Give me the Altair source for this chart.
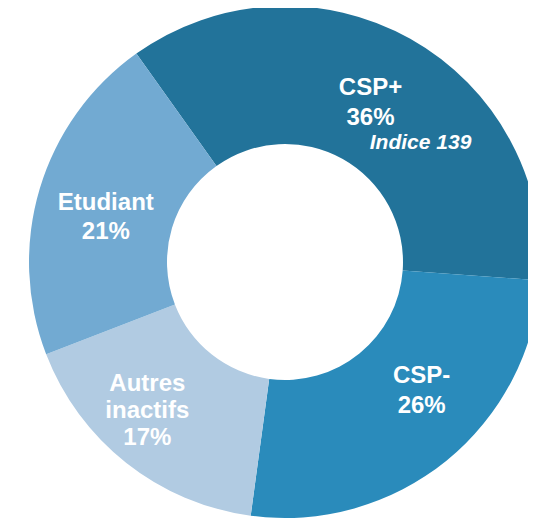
import math
import altair as alt
import pandas as pd

# ---- data ----
categories = ["CSP+", "CSP-", "Autres inactifs", "Etudiant"]
shares = [36, 26, 17, 21]
label_names = ["CSP+", "CSP-", "Autres\ninactifs", "Etudiant"]
notes = ["Indice 139", "", "", ""]
colors = ["#22739A", "#2A8BBB", "#B1CBE2", "#72AAD2"]

df = pd.DataFrame({
    "category": categories,
    "share": shares,
    "name": label_names,
    "note": notes,
    "order": list(range(len(categories))),
})
df["label"] = df["name"] + "\n" + df["share"].astype(str) + "%"

# ---- layout / style ----
W, H = 520, 513
CX, CY = 277, 254
R_OUT, R_IN = 256, 118
R_LABEL = 185
start = math.radians(-35.5)
theta_scale = alt.Scale(domain=[0, sum(shares)], range=[start, start + 2 * math.pi])
FONT = "Liberation Sans"

base = (
    alt.Chart(df)
    .transform_stack(stack="share", groupby=[], as_=["s0", "s1"],
                     sort=[alt.SortField("order")])
    .transform_calculate(mid="(datum.s0 + datum.s1) / 2")
)

arcs = base.mark_arc(innerRadius=R_IN, outerRadius=R_OUT).encode(
    theta=alt.Theta("s0:Q", stack=None, scale=theta_scale),
    theta2="s1:Q",
    color=alt.Color("category:N", scale=alt.Scale(domain=categories, range=colors), legend=None),
    x=alt.value(CX),
    y=alt.value(CY),
)

# per-label offsets from the polar anchor (style, not data): dx, dy, lineHeight
offsets = {
    "CSP+": (-5, -13, 30),
    "CSP-": (20, -30, 30),
    "Autres inactifs": (-23, -23, 27),
    "Etudiant": (-2, -6, 29),
}

layers = [arcs]
for cat, (dx, dy, lh) in offsets.items():
    layers.append(
        base.transform_filter(alt.datum.category == cat)
        .mark_text(radius=R_LABEL, dx=dx, dy=dy, lineBreak="\n", lineHeight=lh,
                   font=FONT, fontSize=24, fontWeight="bold", color="white",
                   align="center", baseline="middle")
        .encode(
            theta=alt.Theta("mid:Q", stack=None, scale=theta_scale),
            text="label:N",
            x=alt.value(CX),
            y=alt.value(CY),
        )
    )

note_layer = (
    base.transform_filter(alt.datum.note != "")
    .mark_text(radius=R_LABEL, dx=45, dy=42, font=FONT, fontSize=21,
               fontWeight="bold", fontStyle="italic", color="white",
               align="center", baseline="middle")
    .encode(
        theta=alt.Theta("mid:Q", stack=None, scale=theta_scale),
        text="note:N",
        x=alt.value(CX),
        y=alt.value(CY),
    )
)
layers.append(note_layer)

chart = (
    alt.layer(*layers)
    .properties(width=W, height=H, autosize=alt.AutoSizeParams(type="none"), padding=0)
    .configure_view(strokeWidth=0)
)

chart.save("out.html", embed_options={"renderer": "svg", "actions": False})
